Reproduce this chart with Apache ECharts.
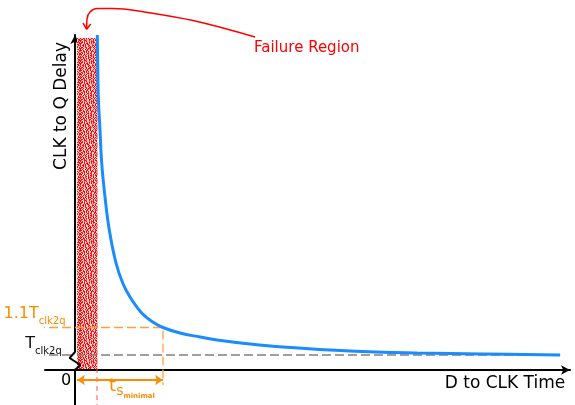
<!DOCTYPE html>
<html>
<head>
<meta charset="utf-8">
<script src="https://cdn.jsdelivr.net/npm/echarts@6/dist/echarts.min.js"></script>
<style>
html,body{margin:0;padding:0;background:#fff;}
#chart{width:575px;height:405px;}
</style>
</head>
<body>
<div id="chart"></div>
<script>
// ---- data (conceptual units) ----
const curveX = [0.743, 0.757, 0.777, 0.833, 0.89, 1.0, 1.143, 1.367, 1.59, 1.833, 2.223, 2.567, 2.933, 3.5, 4.167, 4.733, 5.833, 6.933, 9.167, 11.4, 13.6, 16.17];
const curveY = [33.5, 30.7, 27.3, 24.0, 20.7, 17.3, 14.0, 10.7, 8.7, 7.3, 5.7, 4.85, 4.25, 3.7, 3.3, 3.0, 2.6, 2.3, 1.9, 1.7, 1.6, 1.5];
const tClk2q = 1.5;
const tClk2q11 = 4.25;
const tsMinimal = 2.933;
const failBoundary = 0.733;
const failRegionX = [0.067, 0.74];
const failRegionY = [0.1, 33.2];
const xRange = [-1, 16.5];
const yRange = [-3.5, 33.5];
const refLineStart = -2.167;
const refLineEnd = 16.17;
const arrowLevel = -1.0;
const calloutX = [6.0, 3.933, 2.267, 1.267, 0.733, 0.5, 0.4, 0.39];
const calloutY = [33.3, 34.95, 35.83, 36.15, 36.15, 35.8, 35.1, 34.2];
const calloutHeadX = [0.267, 0.39, 0.523];
const calloutHeadY = [34.7, 34.07, 34.6];

const zip = (a, b) => a.map((v, i) => [v, b[i]]);

// speckle texture for the failure region
const tile = [
"Rr..RRr..R.r.R.RR.rR",
"R.R.r.R..r.RrR..R.R.",
".RR.R..r.R.R.RR..RrR",
"Rr..R.RR.r.R.r.rR..R",
"R..R.R.RR...r..R.RR.",
"r.RR.R..rR..RR.R..Rr",
"R..R.R..R.R.r.R.RR..",
".RR..rR..RRr.R.r.R.R",
"Rr.R..R.RrR...R.R..R",
"R.r..R.Rr.R..r.R.rR.",
"RR.R..rR..R.R..rR..R",
"r..RR.R.R..RrR.R.R.r",
".Rr.R.R.r..R..RR..R.",
"R.R.r..RR.Rr..R.Rr.R",
"RR..R.R.r..R.R.r.R.R",
".r.R.R..R.RR.r.RR..r",
"R.R..rR.R..R.R..R.R.",
"rR.R.R..RrR..R.R..RR",
"R..Rr.R.R..Rr.R.RR..",
".RR.R.r..RR..R.r..RR"
];
const cv = document.createElement('canvas');
cv.width = 20; cv.height = 20;
const ctx = cv.getContext('2d');
tile.forEach((row, y) => {
  for (let x = 0; x < row.length; x++) {
    const c = row[x];
    ctx.fillStyle = c === 'R' ? '#ff0000' : (c === 'r' ? '#ff4040' : '#ffd2d2');
    ctx.fillRect(x, y, 1, 1);
  }
});

const orange = '#ff8c00';
const chart = echarts.init(document.getElementById('chart'), null, {renderer: 'canvas'});

function textPoint(x, y, label) {
  return {
    type: 'scatter', symbolSize: 0, silent: true, z: 10, clip: false,
    itemStyle: {opacity: 1},
    data: [[x, y]],
    label: Object.assign({show: true, position: [0, 0], opacity: 1, fontFamily: 'DejaVu Sans', textBorderWidth: 0, textShadowBlur: 0}, label)
  };
}

const option = {
  animation: false,
  backgroundColor: '#fff',
  grid: {left: 45, right: 5, top: 35, bottom: 0},
  xAxis: {
    type: 'value', min: xRange[0], max: xRange[1],
    axisLine: {onZero: true, symbol: ['none', 'arrow'], symbolSize: [7, 9], lineStyle: {color: '#000', width: 2}},
    axisTick: {show: false}, axisLabel: {show: false}, splitLine: {show: false}
  },
  yAxis: {
    type: 'value', min: yRange[0], max: yRange[1],
    axisLine: {onZero: true, symbol: ['none', 'arrow'], symbolSize: [7, 9], lineStyle: {color: '#000', width: 2}},
    axisTick: {show: false}, axisLabel: {show: false}, splitLine: {show: false}
  },
  series: [
    {
      type: 'scatter', data: [], silent: true,
      markArea: {
        silent: true,
        itemStyle: {color: {image: cv, repeat: 'repeat'}, opacity: 1},
        data: [[{coord: [failRegionX[0], failRegionY[0]]}, {coord: [failRegionX[1], failRegionY[1]]}]]
      }
    },
    {
      type: 'line', data: [[failBoundary, yRange[1]], [failBoundary, yRange[0]]],
      symbol: 'none', clip: false, silent: true, z: 3,
      lineStyle: {color: '#ff5555', width: 1, type: [5, 4]}
    },
    {
      type: 'line', data: [[refLineStart, tClk2q], [refLineEnd, tClk2q]],
      symbol: 'none', clip: false, silent: true, z: 3,
      lineStyle: {color: '#808080', width: 1.5, type: [9, 4]}
    },
    {
      type: 'line', data: [[refLineStart, tClk2q11], [tsMinimal, tClk2q11], [tsMinimal, -1.5]],
      symbol: 'none', clip: false, silent: true, z: 3,
      lineStyle: {color: '#ffa040', width: 1.3, type: [9, 4]}
    },
    {
      type: 'line', data: zip(curveX, curveY),
      symbol: 'none', smooth: 0.4, clip: false, silent: true, z: 5,
      lineStyle: {color: '#1a8cff', width: 3}
    },
    {
      type: 'lines', coordinateSystem: 'cartesian2d', silent: true, z: 6,
      symbol: ['arrow', 'arrow'], symbolSize: 8,
      lineStyle: {color: orange, width: 2, opacity: 1},
      data: [{coords: [[0.067, arrowLevel], [tsMinimal, arrowLevel]]}]
    },
    {
      type: 'line', data: [[0, 1.75], [0, 0.12]], symbol: 'none', clip: false, silent: true, z: 6,
      lineStyle: {color: '#fff', width: 4}
    },
    {
      type: 'line', data: [[0, 1.8], [-0.18, 1.2], [0.18, 0.5], [0, 0]], symbol: 'none', clip: false, silent: true, z: 7,
      lineStyle: {color: '#000', width: 2}
    },
    {
      type: 'line', data: zip(calloutX, calloutY), symbol: 'none', smooth: 0.4, clip: false, silent: true, z: 6,
      lineStyle: {color: '#ff0000', width: 1.5}
    },
    {
      type: 'line', data: zip(calloutHeadX, calloutHeadY), symbol: 'none', clip: false, silent: true, z: 6,
      lineStyle: {color: '#ff0000', width: 1.5}
    },
    {
      type: 'line', data: [[-1.777, -1.0], [-1.777, -3.3]], symbol: 'none', clip: false, silent: true, z: 3,
      lineStyle: {color: '#444', width: 1}
    },
    textPoint(5.967, 32.2, {formatter: 'Failure Region', color: '#ff0000', fontSize: 15, align: 'left', verticalAlign: 'middle'}),
    textPoint(-0.3, -1.1, {formatter: '0', color: '#000', fontSize: 16, align: 'center', verticalAlign: 'middle'}),
    textPoint(14.333, -1.4, {formatter: 'D to CLK Time', color: '#000', fontSize: 17, align: 'center', verticalAlign: 'middle'}),
    textPoint(-0.433, 26.4, {formatter: 'CLK to Q Delay', color: '#000', fontSize: 17, rotate: 90, align: 'center', verticalAlign: 'middle'}),
    textPoint(-1.35, 5.6, {
      formatter: '{a|1.1T}{b|clk2q}', align: 'center', verticalAlign: 'middle',
      rich: {
        a: {color: orange, fontSize: 16, fontFamily: 'DejaVu Sans', verticalAlign: 'bottom'},
        b: {color: orange, fontSize: 10, fontFamily: 'DejaVu Sans', verticalAlign: 'bottom', padding: [0, 0, -4, 0]}
      }
    }),
    textPoint(-1.05, 2.6, {
      formatter: '{a|T}{b|clk2q}', align: 'center', verticalAlign: 'middle',
      rich: {
        a: {color: '#111', fontSize: 16, fontFamily: 'DejaVu Sans', verticalAlign: 'bottom'},
        b: {color: '#111', fontSize: 10, fontFamily: 'DejaVu Sans', verticalAlign: 'bottom', padding: [0, 0, -4, 0]}
      }
    }),
    textPoint(1.9, -1.6, {
      formatter: '{t|t}{s|s}{m|minimal}', align: 'center', verticalAlign: 'middle',
      rich: {
        t: {color: orange, fontSize: 18, fontFamily: 'DejaVu Sans', verticalAlign: 'bottom'},
        s: {color: orange, fontSize: 14, fontFamily: 'DejaVu Sans', verticalAlign: 'bottom', padding: [0, 0, -3, 0]},
        m: {color: orange, fontSize: 7, fontWeight: 'bold', fontFamily: 'DejaVu Sans', verticalAlign: 'bottom', padding: [0, 0, -5, 0]}
      }
    })
  ]
};
chart.setOption(option);
</script>
</body>
</html>
